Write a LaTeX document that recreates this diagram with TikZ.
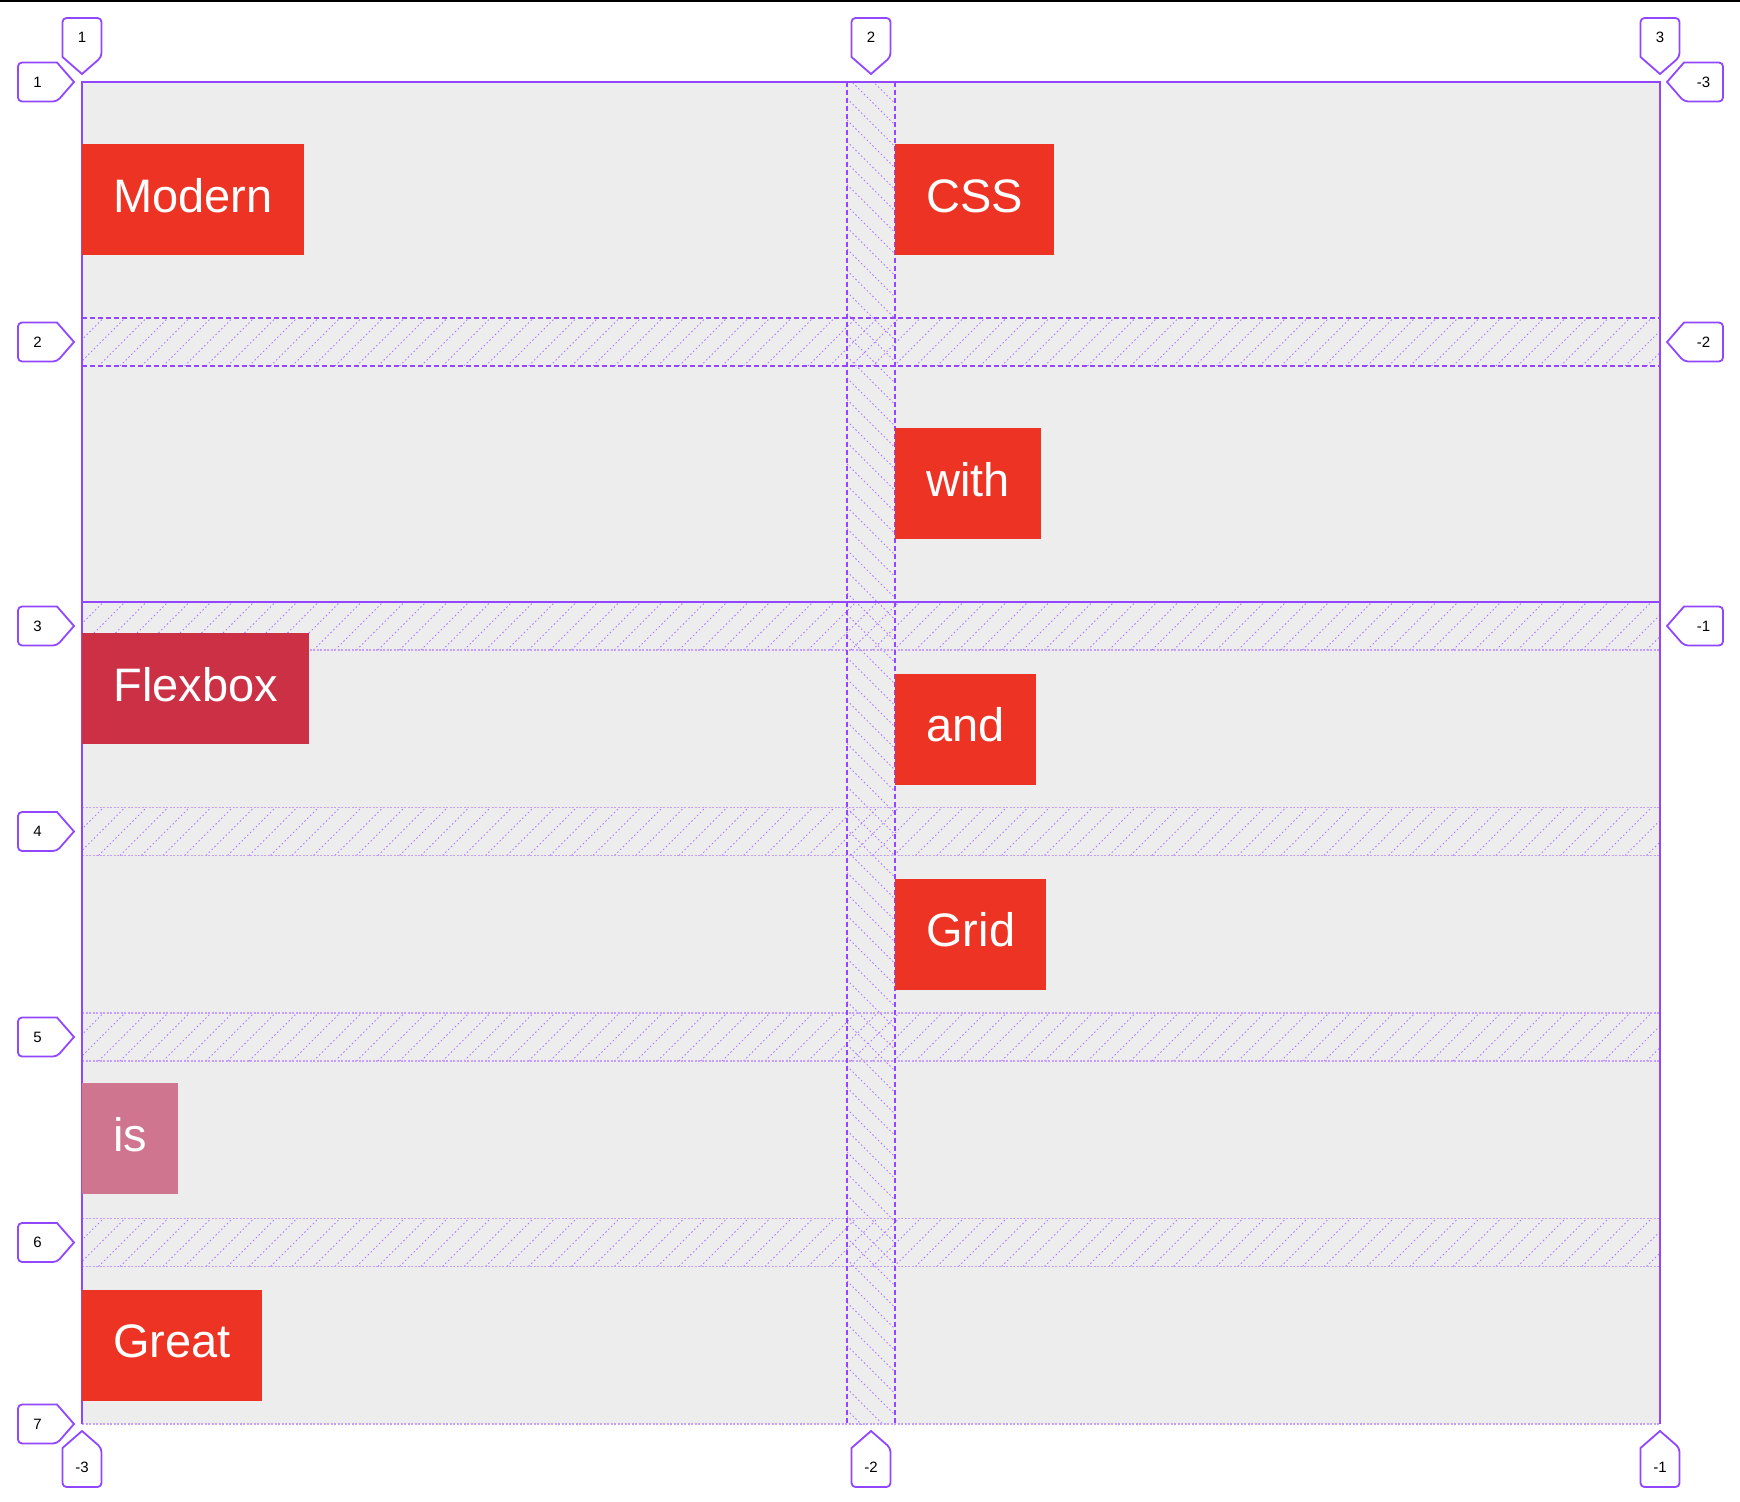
\documentclass[tikz,border=0pt]{standalone}
\usepackage{fontspec}
\setmainfont{Liberation Sans}
\usetikzlibrary{positioning}

\definecolor{gridline}{RGB}{145,70,255}
\definecolor{hatchline}{RGB}{175,120,255}
\definecolor{dotline}{RGB}{195,160,255}
\definecolor{cellbg}{RGB}{237,237,237}
\definecolor{itemred}{RGB}{236,51,36}
\definecolor{itemdark}{RGB}{203,48,69}
\definecolor{itempink}{RGB}{207,117,143}

\begin{document}
\begin{tikzpicture}[x=0.5pt,y=-0.5pt,
    item/.style={fill=#1, text=white, anchor=west, inner xsep=15.5pt, inner ysep=0pt,
      minimum height=55.5pt, font=\fontsize{23.5}{28}\selectfont,
      text height=18.1pt, text depth=5.4pt},
    solidline/.style={gridline, line width=1pt},
    explicit/.style={gridline, line width=0.75pt, dash pattern=on 2.5pt off 1.5pt},
    implicit/.style={dotline, line width=0.75pt, dash pattern=on 1pt off 0.75pt},
    hatch/.style={hatchline, line width=0.4pt, dash pattern=on 0.75pt off 1.25pt},
    lbl/.style={draw=gridline, fill=white, line width=0.9pt},
    lbltext/.style={font=\fontsize{7.5}{9}\selectfont, inner sep=0pt}]
    \useasboundingbox (0,0) rectangle (1740,1502);

    % Top edge of the page
    \fill[black] (0,0) rectangle (1740,2.5);

    % Grid container
    \fill[cellbg] (82,82) rectangle (1660,1424);

    % Hatched row gaps
    \foreach \t in {318, 602, 807.5, 1013, 1218.5} {
    \begin{scope}
        \clip (82,\t) rectangle (1660,\t+48);
        \foreach \x in {34,55.5,...,1660} {
            \draw[hatch] (\x,\t+48) -- ++(48,-48);
        }
    \end{scope}
    }

    % Hatched column gap
    \begin{scope}
        \clip (847,82) rectangle (895,1424);
        \foreach \y in {34,55.5,...,1424} {
            \draw[hatch] (847,\y) -- ++(48,48);
        }
    \end{scope}

    % Grid lines
    \foreach \y in {650, 807.5, 855.5, 1013, 1061, 1218.5, 1266.5, 1424} {
        \draw[implicit] (82,\y) -- (1660,\y);
    }
    \foreach \y in {318, 366} {
        \draw[explicit] (82,\y) -- (1660,\y);
    }
    \foreach \x in {847, 895} {
        \draw[explicit] (\x,82) -- (\x,1424);
    }
    \draw[solidline] (82,1424) -- (82,82) -- (1660,82) -- (1660,1424);
    \draw[solidline] (82,602) -- (1660,602);

    % Grid items
    \node[item=itemred] (modern) at (82,199.5) {Modern};
    \node[item=itemred] (css) at (895,199.5) {CSS};
    \node[item=itemred] (with) at (895,483.5) {with};
    \node[item=itemdark] (flexbox) at (82,688.5) {Flexbox};
    \node[item=itemred] (and) at (895,729) {and};
    \node[item=itemred] (grid) at (895,934) {Grid};
    \node[item=itempink] (is) at (82,1138.5) {is};
    \node[item=itemred] (great) at (82,1345) {Great};

    % Row line numbers, left
    \foreach \i/\y/\t in {1/82/1, 2/342/2, 3/626/3, 4/831.5/4, 5/1037/5, 6/1242.5/6, 7/1424/7} {
        \draw[lbl] (74,\y) -- (57,\y-19.5) [rounded corners=2pt] -- (18,\y-19.5)
            -- (18,\y+19.5) -- (57,\y+19.5) [sharp corners] -- cycle;
        \node[lbltext] (rowl\i) at (37.5,\y) {\t};
    }

    % Row line numbers, right
    \foreach \i/\y/\t in {1/82/-3, 2/342/-2, 3/626/-1} {
        \draw[lbl] (1667,\y) -- (1684,\y-19.5) [rounded corners=2pt] -- (1723,\y-19.5)
            -- (1723,\y+19.5) -- (1684,\y+19.5) [sharp corners] -- cycle;
        \node[lbltext] (rowr\i) at (1703.5,\y) {\t};
    }

    % Column line numbers, top
    \foreach \i/\x/\t in {1/82/1, 2/871/2, 3/1660/3} {
        \draw[lbl] (\x,74) -- (\x-19.5,57) [rounded corners=2pt] -- (\x-19.5,18)
            -- (\x+19.5,18) -- (\x+19.5,57) [sharp corners] -- cycle;
        \node[lbltext] (colt\i) at (\x,37.5) {\t};
    }

    % Column line numbers, bottom
    \foreach \i/\x/\t in {1/82/-3, 2/871/-2, 3/1660/-1} {
        \draw[lbl] (\x,1431) -- (\x-19.5,1448) [rounded corners=2pt] -- (\x-19.5,1487)
            -- (\x+19.5,1487) -- (\x+19.5,1448) [sharp corners] -- cycle;
        \node[lbltext] (colb\i) at (\x,1467.5) {\t};
    }

\end{tikzpicture}
\end{document}
